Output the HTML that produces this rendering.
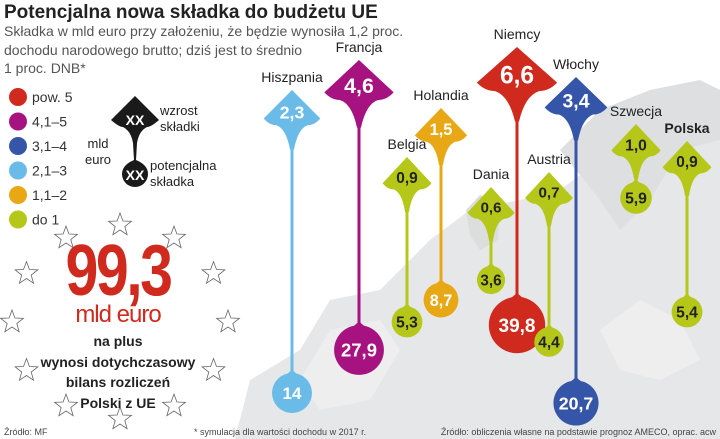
<!DOCTYPE html>
<html><head><meta charset="utf-8"><style>
body{margin:0;background:#fff;}
svg{display:block;font-family:"Liberation Sans",sans-serif;}
</style></head><body>
<svg width="720" height="439" viewBox="0 0 720 439">
<g id="map" fill="#e6e7e8">
<path d="M235,439 L250,380 L300,350 L330,300 L380,290 L430,240 L470,210 L520,200 L560,190 L600,160 L640,120 L680,100 L720,95 L720,439 Z"/>
<path d="M560,150 L600,110 L650,90 L700,80 L720,90 L720,140 L680,150 L650,200 L620,230 L600,200 Z" fill="#dedfe0"/>
<path d="M330,330 L380,320 L400,350 L370,400 L320,410 L300,380 Z" fill="#eeeeef"/>
<path d="M600,330 L640,300 L680,320 L700,360 L660,380 L620,370 Z" fill="#eeeeef"/>
<path d="M466,210 L480,195 L500,200 L498,240 L480,250 L470,235 Z" fill="#dcdddd"/>
</g>
<text x="4" y="18" font-size="19" font-weight="bold" fill="#222">Potencjalna nowa składka do budżetu UE</text>
<g font-size="14" fill="#555">
<text x="4" y="36">Składka w mld euro przy założeniu, że będzie wynosiła 1,2 proc.</text>
<text x="4" y="55">dochodu narodowego brutto; dziś jest to średnio</text>
<text x="4" y="73">1 proc. DNB*</text>
</g>
<g id="legend"></g>
<g>
<path d="M135,96 L159,120 Q151,127 147,127 Q139,131 137,143 L136,160 Q148,165 148,174 A13,13 0 1 1 122,174 Q122,165 134,160 L133,143 Q131,131 123,127 Q119,127 111,120 Z" fill="#1a1a1a"/>
<text x="135" y="125" font-size="14" font-weight="bold" fill="#fff" text-anchor="middle">XX</text>
<text x="135" y="180" font-size="14" font-weight="bold" fill="#fff" text-anchor="middle">XX</text>
<text x="160" y="115" font-size="13" fill="#222">wzrost</text>
<text x="160" y="131" font-size="13" fill="#222">składki</text>
<text x="98" y="148" font-size="13" fill="#222" text-anchor="middle">mld</text>
<text x="98" y="164" font-size="13" fill="#222" text-anchor="middle">euro</text>
<text x="150" y="170" font-size="13" fill="#222">potencjalna</text>
<text x="150" y="186" font-size="13" fill="#222">składka</text>
</g>
<g id="stars"></g>
<g text-anchor="middle">
<text x="118" y="295" font-size="72" font-weight="bold" fill="#d0291e" letter-spacing="-3" transform="translate(118,0) scale(0.82,1) translate(-118,0)">99,3</text>
<text x="118" y="322" font-size="24" fill="#d0291e" letter-spacing="-1">mld euro</text>
<text x="118" y="346" font-size="14" font-weight="bold" fill="#222">na plus</text>
<text x="118" y="367" font-size="14" font-weight="bold" fill="#222">wynosi dotychczasowy</text>
<text x="118" y="387" font-size="14" font-weight="bold" fill="#222">bilans rozliczeń</text>
<text x="118" y="408" font-size="14" font-weight="bold" fill="#222">Polski z UE</text>
</g>
<g id="pins"></g>
<text x="4" y="435" font-size="9" fill="#444">Źródło: MF</text>
<text x="194" y="435" font-size="9" fill="#444">* symulacja dla wartości dochodu w 2017 r.</text>
<text x="716" y="435" font-size="9" fill="#444" text-anchor="end">Źródło: obliczenia własne na podstawie prognoz AMECO, oprac. acw</text>
</svg>
<script>
const countries=["Hiszpania","Francja","Belgia","Holandia","Dania","Niemcy","Austria","Włochy","Szwecja","Polska"];
const increase=[2.3,4.6,0.9,1.5,0.6,6.6,0.7,3.4,1.0,0.9];
const potential=[14,27.9,5.3,8.7,3.6,39.8,4.4,20.7,5.9,5.4];
const legendLabels=["pow. 5","4,1–5","3,1–4","2,1–3","1,1–2","do 1"];
const legendColors=["#d0291e","#a6127f","#3556a8","#6bbbe8","#e8a815","#b5c81a"];
// map anchor layout (pixel positions on map, not data)
const mapX=[292,359,407,441,491,517,549,576,636,687];
const headTop=[90,60,157,108,187,47,172,77,124,141];
const dropY=[393,350,322,300,280,325,342,403,198,312];
const NS="http://www.w3.org/2000/svg";
function el(t,a,p){const e=document.createElementNS(NS,t);for(const k in a)e.setAttribute(k,a[k]);p.appendChild(e);return e;}
function fmt(v){return v.toFixed(v>=10&&v%1===0?0:1).replace('.',',');}
function colorFor(v){if(v>5)return legendColors[0];if(v>4)return legendColors[1];if(v>3)return legendColors[2];if(v>2)return legendColors[3];if(v>1)return legendColors[4];return legendColors[5];}
const lg=document.getElementById('legend');
legendLabels.forEach((l,i)=>{const y=97+i*24.5;
 const c=el('circle',{cx:18,cy:y,r:9,fill:legendColors[i]},lg);
 
 
 const t=el('text',{x:32,y:y+5,'font-size':14,fill:'#333'},lg);t.textContent=l;
 
 
});
const st=document.getElementById('stars');
for(let i=0;i<12;i++){const a=i/12*2*Math.PI;const cx=120+108*Math.sin(a),cy=322-97*Math.cos(a);
 let d='';for(let k=0;k<10;k++){const r=k%2?5:12;const b=k*Math.PI/5;d+=(k?'L':'M')+(cx+r*Math.sin(b)).toFixed(1)+','+(cy-r*Math.cos(b)).toFixed(1);}
 const s=el('path',{d:d+'Z',fill:'none',stroke:'#666','stroke-width':0.8},st);
 
 
}
const pg=document.getElementById('pins');
countries.forEach((c,i)=>{
 const col=colorFor(increase[i]);const cx=mapX[i],ty=headTop[i];
 const w=44+increase[i]*5.5, h=45+increase[i]*3;const r=8+Math.sqrt(potential[i])*3.2;const dy=dropY[i];
 const g=el('g',{},pg);
 
 
 el('line',{x1:cx,y1:ty+h,x2:cx,y2:dy-r,stroke:col,'stroke-width':3},g);
 const hw=w/2;
 const d=`M${cx},${ty} L${cx+hw},${ty+h*0.55} Q${cx+hw*0.8},${ty+h*0.68} ${cx+hw*0.55},${ty+h*0.68} Q${cx+hw*0.2},${ty+h*0.75} ${cx+2},${ty+h*1.15} L${cx-2},${ty+h*1.15} Q${cx-hw*0.2},${ty+h*0.75} ${cx-hw*0.55},${ty+h*0.68} Q${cx-hw*0.8},${ty+h*0.68} ${cx-hw},${ty+h*0.55} Z`;
 const hd=el('path',{d:d,fill:col},g);
 
 
 const dark=increase[i]<=1;
 const fs=14+increase[i]*1.6;
 const vt=el('text',{x:cx,y:ty+h*0.43+fs*0.36,'font-size':fs,'font-weight':'bold',fill:dark?'#222':'#fff','text-anchor':'middle'},g);vt.textContent=fmt(increase[i]);
 
 
 el('path',{d:`M${cx-1.5},${dy-r-8} Q${cx},${dy-r} ${cx+r*0.7},${dy-r*0.7} L${cx-r*0.7},${dy-r*0.7} Q${cx},${dy-r} ${cx+1.5},${dy-r-8} Z`,fill:col},g);
 const dc=el('circle',{cx:cx,cy:dy,r:r,fill:col},g);
 
 
 const pf=Math.min(11+r*0.3,19);
 const pt=el('text',{x:cx,y:dy+pf*0.36,'font-size':pf,'font-weight':'bold',fill:dark?'#222':'#fff','text-anchor':'middle'},g);pt.textContent=fmt(potential[i]);
 
 
 const lt=el('text',{x:cx,y:ty-8,'font-size':14,fill:'#222','text-anchor':'middle','font-weight':c==='Polska'?'bold':'normal'},g);lt.textContent=c;
 
 
});
</script>
</body></html>
